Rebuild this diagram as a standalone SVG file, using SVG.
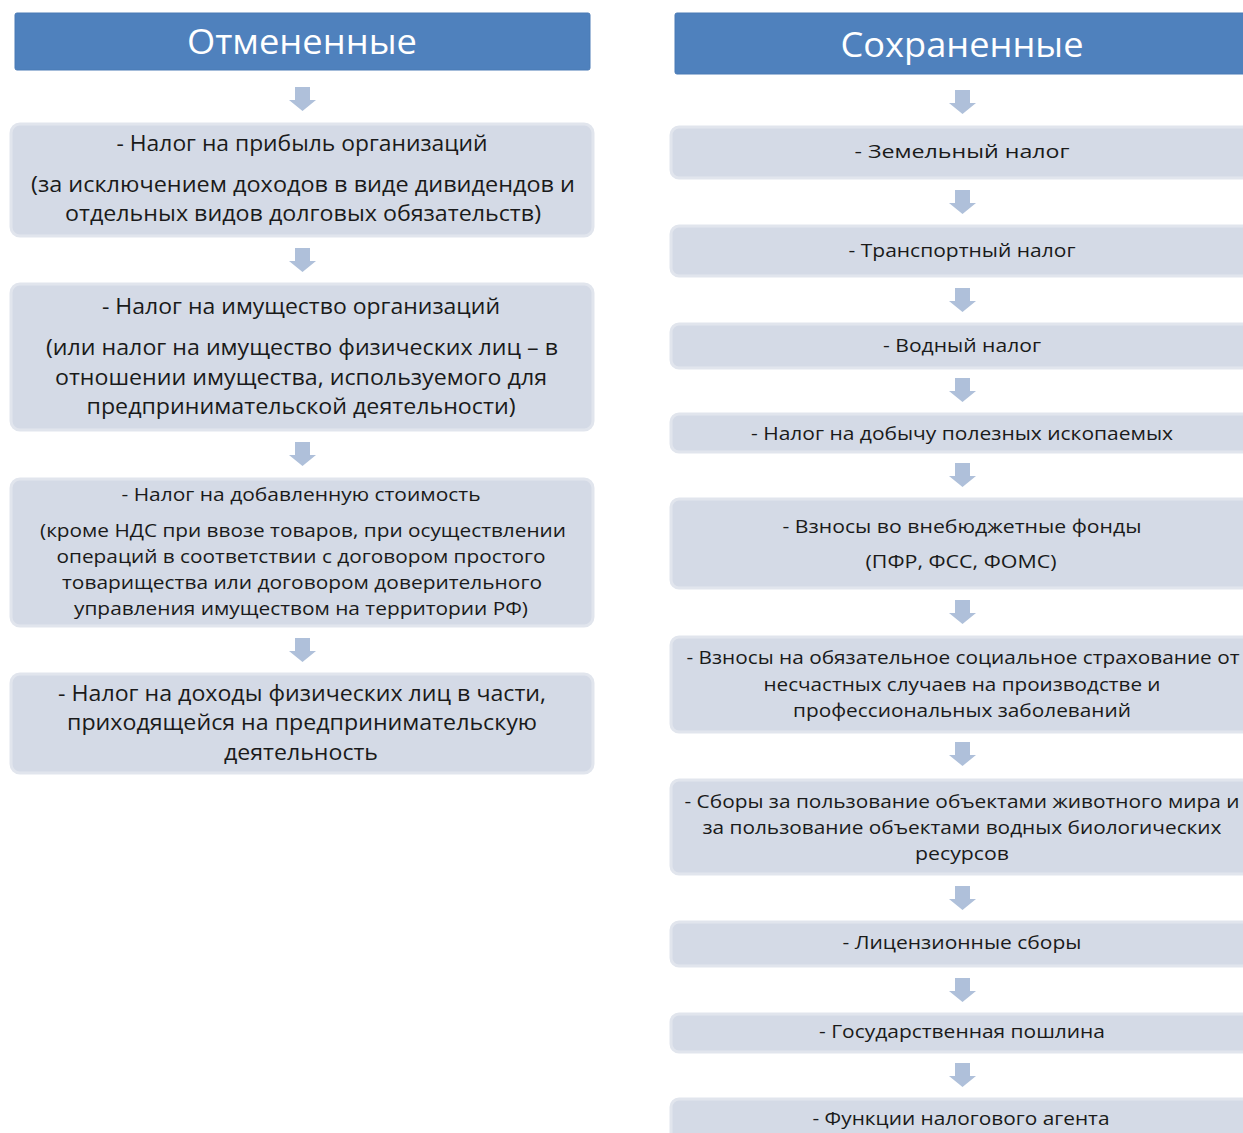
<svg xmlns="http://www.w3.org/2000/svg" width="1243" height="1133" viewBox="0 0 1243 1133">
<defs>
<style>
.hdr{fill:#4F81BD;stroke:#4A7AB5;stroke-width:1}
.box{fill:#D4DAE6;stroke:#E1E5ED;stroke-width:3}
.arr{fill:#AFC0DA}
.ht{font-family:"Open Sans","Noto Sans",sans-serif;font-size:34px;fill:#FFFFFF;text-anchor:middle}
.t{font-family:"Open Sans","Noto Sans",sans-serif;font-size:21px;fill:#1A1A1A;text-anchor:middle}
.s{font-size:19px}
</style>
</defs>
<rect width="1243" height="1133" fill="#FFFFFF"/>
<g id="connectors">
<path class="arr" d="M295,87 h15 v13 h6 l-13.5,11 l-13.5,-11 h6 z"/>
<path class="arr" d="M295,248 h15 v13 h6 l-13.5,11 l-13.5,-11 h6 z"/>
<path class="arr" d="M295,442 h15 v13 h6 l-13.5,11 l-13.5,-11 h6 z"/>
<path class="arr" d="M295,638 h15 v13 h6 l-13.5,11 l-13.5,-11 h6 z"/>
<path class="arr" d="M955,90 h15 v13 h6 l-13.5,11 l-13.5,-11 h6 z"/>
<path class="arr" d="M955,190 h15 v13 h6 l-13.5,11 l-13.5,-11 h6 z"/>
<path class="arr" d="M955,288 h15 v13 h6 l-13.5,11 l-13.5,-11 h6 z"/>
<path class="arr" d="M955,378 h15 v13 h6 l-13.5,11 l-13.5,-11 h6 z"/>
<path class="arr" d="M955,463 h15 v13 h6 l-13.5,11 l-13.5,-11 h6 z"/>
<path class="arr" d="M955,600 h15 v13 h6 l-13.5,11 l-13.5,-11 h6 z"/>
<path class="arr" d="M955,742 h15 v13 h6 l-13.5,11 l-13.5,-11 h6 z"/>
<path class="arr" d="M955,886 h15 v13 h6 l-13.5,11 l-13.5,-11 h6 z"/>
<path class="arr" d="M955,978 h15 v13 h6 l-13.5,11 l-13.5,-11 h6 z"/>
<path class="arr" d="M955,1063 h15 v13 h6 l-13.5,11 l-13.5,-11 h6 z"/>
</g>
<g id="hdr-left">
<rect class="hdr" x="15" y="13" width="575" height="57" rx="2"/>
<text class="ht" x="302" y="54" textLength="230" lengthAdjust="spacingAndGlyphs">Отмененные</text>
</g>
<g id="hdr-right">
<rect class="hdr" x="675" y="13" width="590" height="61" rx="2"/>
<text class="ht" x="962" y="57" textLength="243" lengthAdjust="spacingAndGlyphs">Сохраненные</text>
</g>
<g id="l1">
<rect class="box" x="11" y="124" width="582" height="112" rx="9"/>
<text class="t" x="302" y="151" textLength="371" lengthAdjust="spacingAndGlyphs">- Налог на прибыль организаций</text>
<text class="t" x="303" y="192" textLength="544" lengthAdjust="spacingAndGlyphs">(за исключением доходов в виде дивидендов и</text>
<text class="t" x="303" y="221" textLength="476" lengthAdjust="spacingAndGlyphs">отдельных видов долговых обязательств)</text>
</g>
<g id="l2">
<rect class="box" x="11" y="284" width="582" height="146" rx="9"/>
<text class="t" x="301" y="314" textLength="398" lengthAdjust="spacingAndGlyphs">- Налог на имущество организаций</text>
<text class="t" x="302" y="355" textLength="512" lengthAdjust="spacingAndGlyphs">(или налог на имущество физических лиц – в</text>
<text class="t" x="301" y="385" textLength="492" lengthAdjust="spacingAndGlyphs">отношении имущества, используемого для</text>
<text class="t" x="301" y="414" textLength="429" lengthAdjust="spacingAndGlyphs">предпринимательской деятельности)</text>
</g>
<g id="l3">
<rect class="box" x="11" y="479" width="582" height="147" rx="9"/>
<text class="t s" x="301" y="501" textLength="359" lengthAdjust="spacingAndGlyphs">- Налог на добавленную стоимость</text>
<text class="t s" x="303" y="537" textLength="526" lengthAdjust="spacingAndGlyphs">(кроме НДС при ввозе товаров, при осуществлении</text>
<text class="t s" x="301" y="563" textLength="489" lengthAdjust="spacingAndGlyphs">операций в соответствии с договором простого</text>
<text class="t s" x="302" y="589" textLength="480" lengthAdjust="spacingAndGlyphs">товарищества или договором доверительного</text>
<text class="t s" x="301" y="615" textLength="454" lengthAdjust="spacingAndGlyphs">управления имуществом на территории РФ)</text>
</g>
<g id="l4">
<rect class="box" x="11" y="674" width="582" height="99" rx="9"/>
<text class="t" x="302" y="701" textLength="488" lengthAdjust="spacingAndGlyphs">- Налог на доходы физических лиц в части,</text>
<text class="t" x="302" y="730" textLength="470" lengthAdjust="spacingAndGlyphs">приходящейся на предпринимательскую</text>
<text class="t" x="301" y="760" textLength="154" lengthAdjust="spacingAndGlyphs">деятельность</text>
</g>
<g id="r1">
<rect class="box" x="671" y="127" width="590" height="51" rx="8"/>
<text class="t s" x="962" y="158" textLength="215" lengthAdjust="spacingAndGlyphs">- Земельный налог</text>
</g>
<g id="r2">
<rect class="box" x="671" y="226" width="590" height="50" rx="8"/>
<text class="t s" x="962" y="257" textLength="227" lengthAdjust="spacingAndGlyphs">- Транспортный налог</text>
</g>
<g id="r3">
<rect class="box" x="671" y="324" width="590" height="44" rx="8"/>
<text class="t s" x="962" y="352" textLength="158" lengthAdjust="spacingAndGlyphs">- Водный налог</text>
</g>
<g id="r4">
<rect class="box" x="671" y="414" width="590" height="38" rx="8"/>
<text class="t s" x="962" y="440" textLength="422" lengthAdjust="spacingAndGlyphs">- Налог на добычу полезных ископаемых</text>
</g>
<g id="r5">
<rect class="box" x="671" y="499" width="590" height="89" rx="8"/>
<text class="t s" x="962" y="533" textLength="359" lengthAdjust="spacingAndGlyphs">- Взносы во внебюджетные фонды</text>
<text class="t s" x="961" y="568" textLength="191" lengthAdjust="spacingAndGlyphs">(ПФР, ФСС, ФОМС)</text>
</g>
<g id="r6">
<rect class="box" x="671" y="637" width="590" height="95" rx="8"/>
<text class="t s" x="963" y="664" textLength="553" lengthAdjust="spacingAndGlyphs">- Взносы на обязательное социальное страхование от</text>
<text class="t s" x="962" y="691" textLength="397" lengthAdjust="spacingAndGlyphs">несчастных случаев на производстве и</text>
<text class="t s" x="962" y="717" textLength="338" lengthAdjust="spacingAndGlyphs">профессиональных заболеваний</text>
</g>
<g id="r7">
<rect class="box" x="671" y="780" width="590" height="94" rx="8"/>
<text class="t s" x="962" y="808" textLength="555" lengthAdjust="spacingAndGlyphs">- Сборы за пользование объектами животного мира и</text>
<text class="t s" x="962" y="834" textLength="519" lengthAdjust="spacingAndGlyphs">за пользование объектами водных биологических</text>
<text class="t s" x="962" y="860" textLength="94" lengthAdjust="spacingAndGlyphs">ресурсов</text>
</g>
<g id="r8">
<rect class="box" x="671" y="922" width="590" height="44" rx="8"/>
<text class="t s" x="962" y="949" textLength="239" lengthAdjust="spacingAndGlyphs">- Лицензионные сборы</text>
</g>
<g id="r9">
<rect class="box" x="671" y="1014" width="590" height="38" rx="8"/>
<text class="t s" x="962" y="1038" textLength="286" lengthAdjust="spacingAndGlyphs">- Государственная пошлина</text>
</g>
<g id="r10">
<rect class="box" x="671" y="1099" width="590" height="50" rx="8"/>
<text class="t s" x="961" y="1125" textLength="297" lengthAdjust="spacingAndGlyphs">- Функции налогового агента</text>
</g>
</svg>
